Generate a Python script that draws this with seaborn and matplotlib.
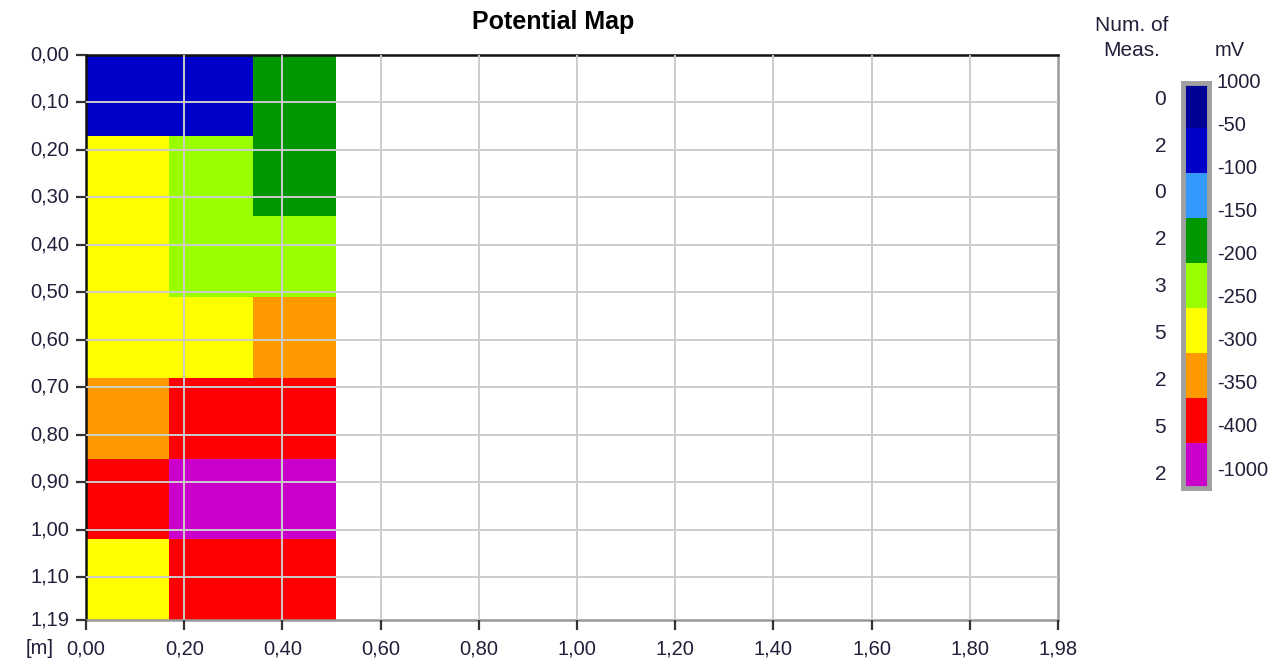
import numpy as np
import matplotlib
matplotlib.use("Agg")
import matplotlib.pyplot as plt
from matplotlib.colors import ListedColormap
import seaborn as sns

# potential classes (mV), top to bottom of the legend
class_edges = ["1000", "-50", "-100", "-150", "-200", "-250", "-300", "-350", "-400", "-1000"]
class_colors = ["#000096", "#0000C8", "#3399FF", "#009600", "#99FF00",
                "#FFFF00", "#FF9900", "#FF0000", "#CC00CC"]

# measured class per cell (rows = y steps of 0.17 m, cols = x steps of 0.17 m)
cell_size = 0.17
cell_class = [
    [1, 1, 3],
    [5, 4, 3],
    [5, 4, 4],
    [5, 5, 6],
    [6, 7, 7],
    [7, 8, 8],
    [5, 7, 7],
]
x_max = 1.98
y_max = 1.19
x_ticks = [0.0, 0.2, 0.4, 0.6, 0.8, 1.0, 1.2, 1.4, 1.6, 1.8, 1.98]
y_ticks = [0.0, 0.1, 0.2, 0.3, 0.4, 0.5, 0.6, 0.7, 0.8, 0.9, 1.0, 1.1, 1.19]

grid = np.array(cell_class)
counts = np.bincount(grid.ravel(), minlength=len(class_colors))

sns.set_style("ticks")
plt.rcParams["font.family"] = ["Liberation Sans", "DejaVu Sans"]
txt = "#20203a"
fs = 14.5

fig = plt.figure(figsize=(12.76, 6.65), dpi=100)
ax = fig.add_axes([0.0674, 0.0677, 0.7618, 0.8496])
cmap = ListedColormap(class_colors)
sns.heatmap(grid, cmap=cmap, vmin=-0.5, vmax=len(class_colors) - 0.5,
            cbar=False, linewidths=0, ax=ax)

ax.set_xlim(0, x_max / cell_size)
ax.set_ylim(y_max / cell_size, 0)
ax.set_xticks([v / cell_size for v in x_ticks])
ax.set_xticklabels([f"{v:.2f}".replace(".", ",") for v in x_ticks], rotation=0)
ax.set_yticks([v / cell_size for v in y_ticks])
ax.set_yticklabels([f"{v:.2f}".replace(".", ",") for v in y_ticks], rotation=0)
ax.tick_params(axis="both", which="major", direction="out", length=7, width=1.6,
               color="#333333", labelsize=fs, labelcolor=txt,
               bottom=True, left=True, top=False, right=False)
ax.tick_params(axis="x", pad=7)
ax.tick_params(axis="y", pad=5)
ax.set_xlabel("")
ax.set_ylabel("")

ax.set_axisbelow(False)
ax.grid(True, color="#cccccc", linewidth=1.4)
# drop grid lines that sit on the frame
for gl in ax.get_xgridlines()[:1] + ax.get_xgridlines()[-1:]:
    gl.set_visible(False)
for gl in ax.get_ygridlines()[:1] + ax.get_ygridlines()[-1:]:
    gl.set_visible(False)

for side, s in ax.spines.items():
    s.set_visible(True)
    s.set_linewidth(1.8)
    s.set_color("#111111" if side in ("top", "left") else "#999999")

fig.text(553 / 1276, 1 - 22 / 665, "Potential Map", ha="center", va="center",
         fontsize=18, fontweight="bold", color="black")
fig.text(40 / 1276, 1 - 649 / 665, "[m]", ha="center", va="center",
         fontsize=fs, color=txt)

# legend bar
cax = fig.add_axes([1183 / 1276, 1 - 488 / 665, 26 / 1276, 405 / 665])
sns.heatmap(np.arange(len(class_colors)).reshape(-1, 1), cmap=cmap,
            vmin=-0.5, vmax=len(class_colors) - 0.5, cbar=False, ax=cax)
cax.set_xticks([])
cax.set_yticks([])
for s in cax.spines.values():
    s.set_visible(True)
    s.set_color("#a0a0a0")
    s.set_linewidth(3.5)

for i, lab in enumerate(class_edges):
    cax.text(1.3, -0.02 + 0.958 * i, lab, ha="left", va="center",
             fontsize=fs, color=txt, clip_on=False)
for i, c in enumerate(counts):
    cax.text(-0.65, 0.36 + 1.042 * i, str(c), ha="right", va="center",
             fontsize=fs + 0.5, color=txt, clip_on=False)

fig.text(1230 / 1276, 1 - 51 / 665, "mV", ha="center", va="center",
         fontsize=fs, color=txt)
fig.text(1132 / 1276, 1 - 38 / 665, "Num. of\nMeas.", ha="center", va="center",
         fontsize=fs + 0.5, color=txt, linespacing=1.45)

fig.savefig("out.png", dpi=100)
